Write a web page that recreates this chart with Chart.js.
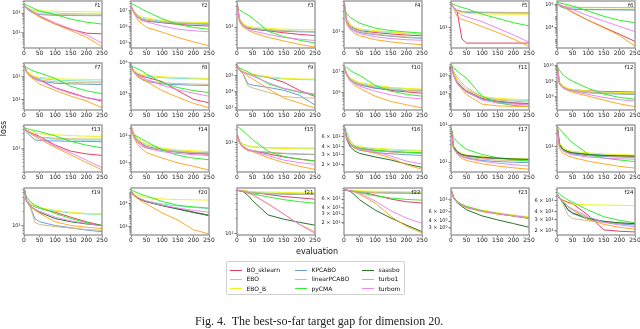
<!DOCTYPE html>
<html><head><meta charset="utf-8">
<script src="https://cdn.jsdelivr.net/npm/chart.js@4.4.0/dist/chart.umd.min.js"></script>
<style>
html,body{margin:0;padding:0;background:#fff}
body{width:640px;height:329px;overflow:hidden;position:relative;font-family:'DejaVu Sans',sans-serif}
canvas.sub{position:absolute}
.txt{position:absolute;white-space:nowrap;color:#111}
</style></head><body>
<script>
// ---------------- data ----------------
const evaluations = [1, 8, 20, 35, 50, 100, 150, 200, 250];
const seriesNames = ['BO_sklearn','EBO','EBO_B','KPCABO','linearPCABO','pyCMA','saasbo','turbo1','turbom'];
const seriesColors = ['rgba(224,30,70,0.85)','rgba(110,225,200,0.9)','rgba(240,240,20,0.95)','rgba(90,145,215,0.9)','rgba(205,185,130,0.95)','rgba(40,235,40,0.95)','rgba(30,110,30,0.95)','rgba(255,165,30,0.95)','rgba(235,125,235,0.9)'];
const xTicks = [0, 50, 100, 150, 200, 250];
const functionNames = ['f1','f2','f3','f4','f5','f6','f7','f8','f9','f10','f11','f12','f13','f14','f15','f16','f17','f18','f19','f20','f21','f22','f23','f24'];

// each: [BO_sklearn, EBO, EBO_B, KPCABO, linearPCABO, pyCMA, saasbo, turbo1, turbom]
const f1 = [
 [250,190,140,104,71,28,15,9.6,8.9],
 [250,190,160,130,115,100,95,92,90],
 [260,200,160,140,130,125,120,118,115],
 [250,170,120,95,85,78,76,75,75],
 [250,180,130,105,92,85,82,80,80],
 [280,260,215,165,130,85,50,35,28],
 null,
 [250,200,130,90,62,28,13,6,2.0],
 [250,200,140,100,72,32,16,8,3.0]];
const f2 = [
 [1.8e7,1e7,5e6,3e6,2.5e6,1.8e6,1.4e6,1.2e6,1.1e6],
 [1.8e7,1e7,5e6,3.5e6,3e6,2.2e6,1.8e6,1.7e6,1.6e6],
 [1.8e7,1.1e7,6e6,4e6,3.5e6,2.5e6,2e6,1.9e6,1.8e6],
 [1.8e7,9e6,4e6,2.5e6,2.2e6,1.8e6,1.6e6,1.5e6,1.4e6],
 [1.8e7,1e7,4.5e6,3e6,2.5e6,2e6,1.7e6,1.6e6,1.5e6],
 [2.9e7,2.5e7,1.9e7,1.3e7,9e6,3.2e6,1.4e6,9e5,6.8e5],
 null,
 [1.8e7,8e6,3e6,1.5e6,9e5,4.5e5,2.1e5,1.1e5,6.2e4],
 [1.8e7,9e6,4e6,2.5e6,2e6,1.1e6,7e5,5.5e5,4.8e5]];
const f3 = [
 [3500,1500,1100,950,900,820,740,680,640],
 [3500,1500,1150,1000,950,880,830,800,780],
 [3500,1600,1200,1050,1000,930,900,880,870],
 [3500,1400,1050,950,900,830,800,780,770],
 [3500,1500,1100,980,930,860,820,800,790],
 [2700,2500,2200,1900,1600,800,600,500,430],
 null,
 [3500,1300,1000,850,750,580,480,400,345],
 [3500,1400,1050,900,820,680,580,530,490]];
const f4 = [
 [4700,1800,1300,1150,1050,950,880,830,800],
 [4700,2000,1400,1200,1100,1000,950,900,870],
 [4700,2000,1450,1250,1150,1050,980,920,880],
 [4700,1700,1200,1050,950,850,780,730,700],
 [4700,1750,1250,1100,1000,880,800,750,720],
 [3500,2600,2100,1800,1550,1200,1050,980,920],
 null,
 [4700,1500,1100,900,800,650,580,530,500],
 [4700,1600,1150,1000,900,760,690,650,630]];
const f5 = [
 [525,400,295,44,33,33,33,33,33],
 [525,400,330,300,290,280,277,275,275],
 [525,400,320,280,265,255,252,250,250],
 [525,400,330,300,290,282,278,276,275],
 [525,400,335,305,295,288,285,283,282],
 [550,500,450,400,370,250,186,138,110],
 null,
 [525,400,210,174,158,105,69,44,26],
 [525,400,295,234,209,148,93,59,35]];
const f6 = [
 [1.2e6,9e5,6e5,3.5e5,2e5,4e4,1e4,2500,600],
 [1.2e6,7e5,5e5,4e5,3.8e5,3.6e5,3.5e5,3.5e5,3.4e5],
 [1.2e6,8e5,6e5,5.5e5,5.2e5,5e5,5e5,4.9e5,4.8e5],
 [1.2e6,7e5,5e5,4e5,3.7e5,3.4e5,3.3e5,3.2e5,3.1e5],
 [1.2e6,8e5,6.5e5,5.8e5,5.5e5,5.3e5,5.2e5,5.1e5,5e5],
 [1.5e6,1.3e6,1.1e6,9e5,7e5,2.5e5,9e4,4e4,2.5e4],
 null,
 [1.2e6,9e5,6e5,3.5e5,2e5,4e4,9e3,2000,230],
 [1.2e6,9e5,7e5,5e5,3.5e5,1e5,3.5e4,1.2e4,4300]];
const f7 = [
 [3500,1800,1200,900,750,330,200,120,85],
 [3500,1800,1200,950,850,720,680,650,640],
 [3500,1900,1300,1050,950,820,790,770,760],
 [3500,1600,1050,800,650,520,490,470,460],
 [3500,1700,1100,850,720,600,570,550,545],
 [2950,2600,2100,1700,1500,850,380,240,180],
 null,
 [3500,1600,1000,700,480,250,140,85,43],
 [3500,1700,1100,850,680,320,180,120,95]];
const f8 = [
 [6e5,3e5,1.8e5,1.3e5,1.1e5,6e4,1.6e4,4.5e3,2.7e3],
 [6e5,3e5,2e5,1.5e5,1.3e5,1.05e5,9.5e4,9e4,8.5e4],
 [6e5,3.2e5,2.2e5,1.7e5,1.5e5,1.2e5,1.1e5,1e5,9.5e4],
 [6e5,2.5e5,1.3e5,8e4,6e4,4.2e4,3.8e4,3.5e4,3.4e4],
 [6e5,2.7e5,1.5e5,9e4,7e4,5e4,4.5e4,4.2e4,4e4],
 [6e5,5e5,4e5,2.8e5,1.8e5,5e4,2.5e4,1.6e4,1.2e4],
 null,
 [6e5,2.5e5,1.4e5,9e4,6e4,1.6e4,6e3,2.5e3,1.3e3],
 [6e5,2.7e5,1.6e5,1.1e5,8e4,3.5e4,1.8e4,1.1e4,7e3]];
const f9 = [
 [4e5,2e5,1.5e5,1.2e5,1.1e5,7.5e4,3.7e4,1.2e4,5e3],
 [4e5,2.2e5,1.6e5,1.2e5,1e5,7e4,6e4,5.5e4,5.2e4],
 [4e5,2.3e5,1.7e5,1.3e5,1.1e5,8e4,6.5e4,6e4,5.8e4],
 [4e5,2e5,1.2e5,3e4,2.5e4,1.8e4,1.2e4,6e3,1.5e3],
 [4e5,2e5,1.1e5,2.2e4,1.7e4,9e3,5e3,4.2e3,4e3],
 [3.2e5,2.8e5,2.2e5,1.6e5,1.1e5,3e4,1.5e4,9e3,6.5e3],
 null,
 [4e5,2.2e5,1.5e5,9e4,6e4,1.5e4,4e3,2e3,1e3],
 [4e5,2.2e5,1.6e5,1.2e5,9e4,3.5e4,1.6e4,1e4,7e3]];
const f10 = [
 [1.6e7,8e6,4e6,3e6,2.5e6,1.7e6,1.3e6,1.1e6,9.5e5],
 [1.6e7,8e6,4.5e6,3.5e6,2.8e6,2e6,1.7e6,1.5e6,1.4e6],
 [1.6e7,8.5e6,5e6,3.8e6,3e6,2.2e6,1.8e6,1.6e6,1.5e6],
 [1.6e7,7e6,3.8e6,2.8e6,2.3e6,1.6e6,1.4e6,1.25e6,1.2e6],
 [1.6e7,7.5e6,4e6,3e6,2.5e6,1.8e6,1.5e6,1.3e6,1.2e6],
 [1.7e7,1.5e7,1.1e7,8e6,6.5e6,2.2e6,1.2e6,8.5e5,7e5],
 null,
 [1.6e7,6.5e6,3.5e6,2.2e6,1.6e6,7e5,4e5,2.8e5,2e5],
 [1.6e7,7e6,3.8e6,2.6e6,2e6,1.2e6,8e5,6e5,5.2e5]];
const f11 = [
 [1.6e7,1.5e6,2e5,5e4,2e4,3e3,1.5e3,1e3,800],
 [1.6e7,2e6,3e5,8e4,3e4,4e3,2.5e3,2e3,1.8e3],
 [1.6e7,2e6,3e5,8e4,3e4,5e3,3e3,2.5e3,2.2e3],
 [1.6e7,1e6,1.2e5,4e4,1.5e4,2.5e3,1.2e3,900,700],
 [1.6e7,3e6,6e5,1.5e5,5e4,4e3,2e3,1.5e3,1.2e3],
 [1.6e7,8e6,3e6,1.2e6,5e5,5e3,1e3,500,400],
 null,
 [1.6e7,1.2e6,1.5e5,3e4,8e3,700,450,400,380],
 [1.6e7,1.2e6,1.5e5,4e4,1.5e4,2e3,900,700,600]];
const f12 = [
 [1e10,7e8,4e8,3e8,2.8e8,2.4e8,2.2e8,2.1e8,2e8],
 [1e10,8e8,4.5e8,3e8,2.6e8,2e8,1.8e8,1.7e8,1.6e8],
 [1e10,9e8,5e8,3.5e8,3e8,2.3e8,2e8,1.9e8,1.8e8],
 [1e10,7e8,3.8e8,2.8e8,2.4e8,1.8e8,1.6e8,1.5e8,1.4e8],
 [1e10,8e8,4e8,3e8,2.5e8,1.9e8,1.7e8,1.6e8,1.5e8],
 [9e9,5e9,2.5e9,1.5e9,1e9,3.5e8,1.5e8,9e7,7e7],
 null,
 [1e10,6e8,3.5e8,2.5e8,1.9e8,1.1e8,6e7,3.5e7,2.3e7],
 [1e10,6.5e8,3.8e8,2.8e8,2.3e8,1.4e8,9e7,6.5e7,5.3e7]];
const f13 = [
 [4300,3800,3300,2800,2400,1300,850,700,630],
 [4300,3500,2900,2500,2300,2000,1900,1850,1850],
 [4300,3800,3300,3000,2900,2700,2550,2450,2400],
 [4300,3300,2500,1900,1800,1750,1700,1700,1650],
 [4300,3600,3000,2500,2300,2100,2050,2000,2000],
 [4500,4200,3900,3600,3400,2500,1700,1300,1070],
 null,
 [4300,3700,3000,2400,2000,1100,650,380,225],
 [4300,3700,3100,2600,2200,1200,750,450,265]];
const f14 = [
 [220,110,70,50,40,30,25,22,21],
 [220,120,75,55,45,33,28,25,24],
 [220,130,85,60,50,35,30,28,26],
 [220,100,60,42,36,29,25,23,22],
 [220,105,65,45,38,30,26,24,23],
 [130,110,95,75,60,30,19,15,13],
 null,
 [220,90,50,32,24,15,10,7.5,5.4],
 [220,100,60,42,35,26,22,20,18.6]];
const f15 = [
 [1500,1000,800,700,650,550,470,420,380],
 [1500,1100,900,820,790,760,750,745,740],
 [1500,1100,920,830,800,750,730,715,710],
 [1500,1000,780,680,640,590,560,540,530],
 [1500,1050,820,700,650,600,570,550,540],
 [2300,2100,1800,1450,1150,630,480,420,380],
 null,
 [1500,950,750,650,620,450,350,290,245],
 [1500,1000,780,680,640,500,400,350,320]];
const f16 = [
 [88,60,45,40,38,35,33,32,31.5],
 [88,75,50,42,40,37,35.5,34.5,34],
 [88,65,48,42,40,38,36.5,35.5,35],
 [88,60,43,38,35,32,30.5,29.5,28.6],
 [88,62,45,40,37,34,33,32,31],
 [88,60,45,40,38,35,33.5,32.5,31.7],
 [88,55,40,34,31,27,24,20.5,18],
 [88,58,43,38,36,31,26,20,16.6],
 [88,58,44,39,37,33,28,23,20.5]];
const f17 = [
 [80,25,18,15.5,14.5,13,12.5,12,11.8],
 [80,27,19,16,15,13.5,12.8,12.2,12],
 [80,28,20,17,15.5,14,13,12.5,12],
 [80,24,17,14,13,11,10.3,9.9,9.6],
 [80,25,17.5,14.5,13.5,12,11.3,11,10.8],
 [80,45,35,27,22,16,13,11.5,10.7],
 [80,26,19,16,15,13.5,12.7,12.2,11.8],
 [80,23,16,12.5,11,9,7.8,7,6.4],
 [80,24,17,14,12.5,10.5,9.3,8.5,7.9]];
const f18 = [
 [280,110,85,78,72,66,63,61,60],
 [280,120,90,80,75,68,65,63,62],
 [280,120,92,82,78,72,68,66,64],
 [280,100,80,72,68,62,60,58,57],
 [280,110,85,76,72,66,62,60,59],
 [280,250,200,150,120,68,55,50,46],
 [280,110,85,76,72,66,63,62,61],
 [280,90,70,62,57,47,41,36,33],
 [280,100,80,70,65,58,55,53,52]];
const f19 = [
 [590,350,280,250,230,190,150,120,100],
 [590,350,280,250,230,200,185,175,170],
 [590,360,290,260,240,210,190,180,175],
 [590,330,250,140,120,100,90,80,74],
 [590,330,250,115,105,95,88,82,79],
 [590,400,320,270,240,180,140,115,100],
 [590,330,260,220,190,140,120,108,100],
 [590,330,250,210,180,120,100,92,86],
 [590,340,260,220,200,150,125,110,98]];
const f20 = [
 [1.2e5,6e4,3.5e4,2.2e4,1.5e4,7e3,3.5e3,1.7e3,900],
 [1.2e5,6e4,3.5e4,2.3e4,1.7e4,9e3,6e3,4.5e3,3.5e3],
 [1.2e5,8e4,5.5e4,4e4,3.3e4,2.5e4,2.2e4,2.1e4,2e4],
 [1.2e5,5.5e4,3.2e4,2e4,1.4e4,6.5e3,3.2e3,1.6e3,850],
 [1.2e5,5.5e4,3.3e4,2.1e4,1.5e4,7e3,3.5e3,1.8e3,950],
 [1.5e5,1.2e5,9e4,6e4,4.5e4,1.5e4,7e3,5e3,4e3],
 [1.2e5,5.5e4,3.2e4,2e4,1.4e4,6.5e3,3.3e3,1.7e3,900],
 [1.2e5,5e4,2.8e4,1.5e4,9e3,1.5e3,350,50,21],
 [1.2e5,5.5e4,3.3e4,2.1e4,1.5e4,7e3,4e3,2.5e3,1.7e3]];
const f21 = [
 [70,70,69,67,65,58,53,50,47],
 [70,70,68,66,64,62,61,60,60],
 [70,70,69,67,66,65,64,63,63],
 [70,69,67,64,62,60,59,58,58],
 [70,69,67,65,63,61,60,59,59],
 [70,69,67,63,60,52,46,42,39],
 [70,69,66,56,44,23,19,16.5,14.5],
 [70,69,67,62,57,38,24,15,10.7],
 [70,69,67,63,58,38,24,15,10]];
const f22 = [
 [91,90,89,87,84,72,60,53,50],
 [91,90,89,87,85,83,82,81,80],
 [91,91,90,89,88,86,85,84,83],
 [91,90,88,85,82,80,79,78,78],
 [91,90,88,86,83,81,80,79,79],
 [91,90,88,84,80,70,63,59,57],
 [91,90,86,72,58,36,25,18,13.3],
 [91,90,88,82,75,50,27,17,12.6],
 [91,90,88,84,78,55,35,25,19.5]];
const f23 = [
 [15,11,9,8,7.3,6.2,5.5,5,4.5],
 [15,11,9,8,7.4,6.3,5.6,5.1,4.7],
 [15,11,9.2,8.2,7.5,6.4,5.7,5.2,4.8],
 [15,11,9,7.9,7.2,6.1,5.5,5,4.6],
 [15,11,9,8,7.3,6.2,5.5,5,4.6],
 [15,11.5,9.3,8.2,7.5,6.2,5.5,5,4.5],
 [15,11,8.8,7.5,6.5,5,4.2,3.6,3.06],
 [15,11,9,7.8,7.1,6,5.4,5,4.5],
 [15,11,9,7.9,7.2,6.1,5.5,5,4.6]];
const f24 = [
 [750,650,600,560,530,350,205,195,190],
 [750,650,580,480,420,320,280,260,250],
 [750,650,580,540,520,510,505,500,495],
 [750,650,560,420,370,300,270,255,245],
 [750,650,520,350,310,285,270,262,255],
 [820,750,680,610,560,420,330,290,265],
 [750,650,550,430,380,310,280,265,257],
 [750,650,560,470,420,300,250,225,210],
 [750,650,570,480,440,330,270,245,230]];
const allData = [f1,f2,f3,f4,f5,f6,f7,f8,f9,f10,f11,f12,f13,f14,f15,f16,f17,f18,f19,f20,f21,f22,f23,f24];

// y-axis tick values and limits per subplot
const yTickValues = [
 [10,100],[1e5,1e6,1e7],[1000],[1000],[100],[1e4,1e6],
 [100,1000],[1e4,1e6],[1e3,1e4,1e5],[1e6,1e7],[1e4,1e6],[1e8,1e9,1e10],
 [1000],[10,100],[1000],[20,30,40,60],[10,100],[100],
 [100],[100,1e4],[10],[20,30,40,60],[3,4,6,10],[200,300,400,600]];
const yLimits = [
 [1.7,415],[4.5e4,4.2e7],[330,4000],[420,5000],[23.4,631],[160,1.9e6],
 [34,4100],[940,9e5],[750,5.6e5],[1.6e5,2.4e7],[160,2.4e7],[1.4e7,1.5e10],
 [195,5400],[4.6,250],[215,2470],[15,94],[5.4,100],[27,300],
 [63,620],[17,2.3e5],[9.3,78],[11.4,100],[2.2,16.6],[170,940]];

// ---------------- layout ----------------
const colLeft = [24, 131, 237, 344, 451, 557];
const rowTop = [1, 63, 125, 188];
const PW = 78, PH = 47, LW = 24, TP = 4, RP = 7, BH = 10;

const SUP = {'0':'⁰','1':'¹','2':'²','3':'³','4':'⁴','5':'⁵','6':'⁶','7':'⁷','8':'⁸','9':'⁹','-':'⁻'};
function fmtLog(v){
  const e = Math.floor(Math.log10(v) + 1e-9);
  const m = Math.round(v / Math.pow(10, e));
  const es = String(e).split('').map(c => SUP[c]).join('');
  return m === 1 ? '10' + es : m + ' × 10' + es;
}

const framePlugin = {
  id: 'frame',
  afterDraw(chart, args, opts) {
    const {ctx, chartArea: a, scales} = chart;
    const y = scales.y;
    ctx.save();
    ctx.strokeStyle = '#333'; ctx.lineWidth = 0.6;
    const lo = Math.floor(Math.log10(y.min)), hi = Math.ceil(Math.log10(y.max));
    for (let e = lo; e <= hi; e++) {
      for (let m = 1; m <= 9; m++) {
        const v = m * Math.pow(10, e);
        if (v < y.min || v > y.max) continue;
        const p = Math.round(y.getPixelForValue(v)) + 0.5;
        ctx.beginPath(); ctx.moveTo(a.left, p); ctx.lineTo(a.left - 1.5, p); ctx.stroke();
      }
    }
    ctx.strokeStyle = '#9a9a9a'; ctx.lineWidth = 1.4;
    ctx.strokeRect(a.left, a.top, a.right - a.left, a.bottom - a.top);
    ctx.fillStyle = '#222'; ctx.font = '5.5px "DejaVu Sans"';
    ctx.textAlign = 'right'; ctx.textBaseline = 'top';
    ctx.fillText(opts.title, a.right - 1.5, a.top + 1.5);
    ctx.restore();
  }
};

allData.forEach((data, k) => {
  const row = Math.floor(k / 6), col = k % 6;
  const cv = document.createElement('canvas');
  cv.className = 'sub';
  const w = LW + PW + RP, h = TP + PH + BH;
  cv.width = w; cv.height = h;
  cv.style.left = (colLeft[col] - LW) + 'px';
  cv.style.top = (rowTop[row] - TP) + 'px';
  cv.style.width = w + 'px'; cv.style.height = h + 'px';
  document.body.appendChild(cv);
  const datasets = [];
  data.forEach((vals, i) => {
    if (!vals) return;
    datasets.push({
      label: seriesNames[i],
      data: evaluations.map((x, j) => ({x, y: vals[j]})),
      borderColor: seriesColors[i], backgroundColor: seriesColors[i],
      borderWidth: 1, pointRadius: 0, tension: 0, fill: false,
      order: 10 - i
    });
  });
  const ticks = yTickValues[k];
  new Chart(cv, {
    type: 'line',
    data: {datasets},
    plugins: [framePlugin],
    options: {
      responsive: false, animation: false, devicePixelRatio: 1,
      layout: {padding: {left: 0, right: RP, top: TP, bottom: 0}},
      plugins: {legend: {display: false}, tooltip: {enabled: false}, frame: {title: functionNames[k]}},
      scales: {
        x: {
          type: 'linear', min: 0, max: 250,
          afterBuildTicks: s => { s.ticks = xTicks.map(v => ({value: v})); },
          afterFit: s => { s.height = BH; },
          ticks: {font: {size: 6, family: 'DejaVu Sans'}, color: '#222', padding: 0, maxRotation: 0, autoSkip: false},
          grid: {display: true, drawOnChartArea: false, drawTicks: true, tickLength: 2, color: '#333', lineWidth: 0.6},
          border: {display: false}
        },
        y: {
          type: 'logarithmic', min: yLimits[k][0], max: yLimits[k][1],
          afterBuildTicks: s => { s.ticks = ticks.map(v => ({value: v})); },
          afterFit: s => { s.width = LW; },
          ticks: {font: {size: 5, family: 'DejaVu Sans'}, color: '#222', padding: 1, autoSkip: false, callback: v => fmtLog(v)},
          grid: {display: true, drawOnChartArea: false, drawTicks: true, tickLength: 2.5, color: '#333', lineWidth: 0.6},
          border: {display: false}
        }
      }
    }
  });
});

// ---------------- texts & legend ----------------
function addText(t, css) {
  const d = document.createElement('div'); d.className = 'txt'; d.textContent = t;
  Object.assign(d.style, css); document.body.appendChild(d); return d;
}
addText('evaluation', {left: '296px', top: '247px', fontSize: '8px', fontFamily: '"DejaVu Sans"'});
addText('loss', {left: '-4px', top: '124px', fontSize: '8px', fontFamily: '"DejaVu Sans"', transform: 'rotate(-90deg)', transformOrigin: 'center'});

const lg = document.createElement('div');
Object.assign(lg.style, {position: 'absolute', left: '226px', top: '261px', width: '177px', height: '32px', border: '1px solid #d0d0d0', borderRadius: '2px'});
document.body.appendChild(lg);
const legCol = [230, 295, 362], legRow = [270, 279.3, 288.5];
seriesNames.forEach((n, i) => {
  const c = Math.floor(i / 3), r = i % 3;
  const ln = document.createElement('div');
  Object.assign(ln.style, {position: 'absolute', left: legCol[c] + 'px', top: (legRow[r] - 0.5) + 'px', width: '12px', height: '1px', background: seriesColors[i]});
  document.body.appendChild(ln);
  addText(n, {left: (legCol[c] + 16.5) + 'px', top: (legRow[r] - 4) + 'px', fontSize: '6px', lineHeight: '7px', fontFamily: '"DejaVu Sans"'});
});
addText('Fig. 4.  The best-so-far target gap for dimension 20.', {left: '195px', top: '314px', fontSize: '12px', lineHeight: '14px', fontFamily: '"Liberation Serif", serif', whiteSpace: 'pre', color: '#222'});
</script>
</body></html>
